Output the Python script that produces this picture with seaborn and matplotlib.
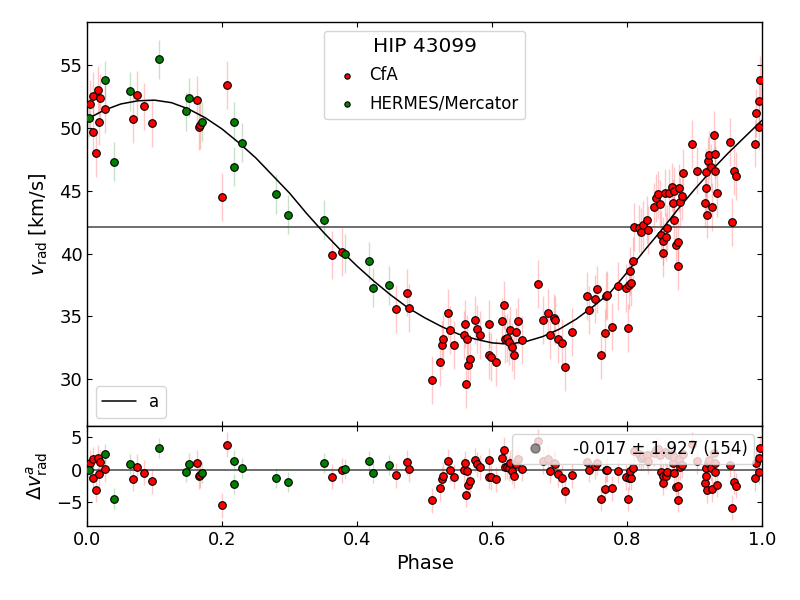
"""Phase-folded radial velocities of HIP 43099 with orbit model and residuals."""
import matplotlib
matplotlib.use("Agg")
import matplotlib.pyplot as plt
from matplotlib.lines import Line2D
import numpy as np
import seaborn as sns

# --- data ------------------------------------------------------------------
cfa_phase = [
    0.004, 0.008, 0.008, 0.013, 0.016, 0.017, 0.019, 0.027, 0.068, 0.074,
    0.084, 0.096, 0.163, 0.165, 0.167, 0.200, 0.207,
    0.363, 0.377, 0.457, 0.474, 0.477, 0.511, 0.523, 0.526, 0.528, 0.535,
    0.537, 0.544, 0.558, 0.560, 0.563, 0.562, 0.564, 0.567, 0.574, 0.577,
    0.582, 0.596, 0.595, 0.598, 0.606, 0.614, 0.617, 0.619, 0.622, 0.625,
    0.627, 0.630, 0.633, 0.635, 0.638, 0.644, 0.668, 0.675, 0.683, 0.686,
    0.692, 0.693, 0.697,
    0.703, 0.708, 0.719, 0.740, 0.743, 0.752, 0.756, 0.762, 0.768, 0.769,
    0.770, 0.777, 0.786, 0.798, 0.801, 0.803, 0.806, 0.804, 0.809, 0.811,
    0.817, 0.821, 0.824, 0.830, 0.831, 0.840, 0.843, 0.846, 0.849, 0.851,
    0.853, 0.854, 0.856, 0.857, 0.859, 0.862, 0.866, 0.868, 0.869, 0.870,
    0.873, 0.875, 0.876, 0.877, 0.879, 0.882, 0.883, 0.896, 0.903, 0.915,
    0.917, 0.917, 0.919, 0.920, 0.921, 0.925, 0.926, 0.929, 0.930, 0.931,
    0.934, 0.953, 0.956, 0.958, 0.962, 0.990, 0.991, 0.995, 0.997, 0.996,
]
cfa_rv = [
    51.9, 49.7, 52.5, 48.0, 53.0, 50.5, 52.4, 51.5, 50.7, 52.6,
    51.7, 50.4, 52.2, 50.1, 50.2, 44.5, 53.4,
    39.9, 40.1, 35.6, 36.9, 35.7, 29.95, 31.4, 32.7, 33.2, 35.3,
    33.9, 32.7, 33.5, 34.4, 33.2, 29.6, 31.1, 31.65, 34.7, 34.0,
    33.5, 34.4, 31.9, 31.8, 31.4, 34.6, 35.9, 33.2, 33.3, 33.0,
    33.9, 32.6, 31.9, 33.8, 34.6, 33.1, 37.6, 34.7, 35.3, 33.5,
    34.9, 34.7, 33.2,
    32.9, 31.0, 33.75, 36.6, 35.5, 36.4, 37.15, 31.9, 33.7, 36.6,
    36.7, 34.2, 37.4, 37.25, 34.1, 37.5, 37.7, 38.6, 39.4, 42.1,
    42.0, 41.75, 42.25, 42.7, 41.85, 43.7, 44.4, 44.7, 43.95, 41.5,
    41.0, 40.05, 44.85, 41.3, 42.0, 44.8, 45.3, 44.0, 45.0, 42.65,
    40.7, 40.95, 39.0, 45.2, 44.1, 44.6, 46.4, 48.7, 46.6, 44.0,
    45.2, 46.45, 43.1, 47.4, 47.85, 46.85, 43.7, 49.4, 46.55, 47.9,
    44.8, 48.9, 42.5, 46.55, 46.2, 48.75, 51.2, 52.1, 53.8, 50.1,
]
cfa_err = [1.9] * len(cfa_phase)

herm_phase = [
    0.0025, 0.026, 0.040, 0.063, 0.107, 0.146, 0.151, 0.170, 0.218,
    0.218, 0.230, 0.280, 0.297, 0.351, 0.382, 0.418, 0.424, 0.447,
]
herm_rv = [
    50.8, 53.8, 47.3, 52.9, 55.45, 51.3, 52.4, 50.5, 50.5,
    46.9, 48.8, 44.7, 43.1, 42.7, 40.0, 39.4, 37.3, 37.5,
]
herm_err = [1.55] * len(herm_phase)

# orbit model "a", sampled along the drawn curve
model_phase = [
    0.000, 0.025, 0.050, 0.075, 0.100, 0.125, 0.150, 0.175, 0.200, 0.225,
    0.250, 0.275, 0.300, 0.325, 0.350, 0.375, 0.400, 0.425, 0.450, 0.475,
    0.500, 0.525, 0.550, 0.575, 0.600, 0.625, 0.650, 0.675, 0.700, 0.725,
    0.750, 0.775, 0.800, 0.825, 0.850, 0.875, 0.900, 0.925, 0.950, 0.975,
    1.000,
]
model_rv = [
    50.7, 51.4, 51.9, 52.15, 52.2, 52.0, 51.5, 50.8, 49.9, 48.8,
    47.6, 46.2, 44.8, 43.2, 41.7, 40.3, 39.0, 37.8, 36.7, 35.7,
    34.9, 34.2, 33.6, 33.2, 32.9, 32.8, 33.0, 33.4, 34.0, 34.8,
    35.8, 36.9, 38.5, 40.2, 41.8, 43.5, 45.1, 46.6, 48.0, 49.3,
    50.6,
]
gamma = 42.1
resid_label = "-0.017 ± 1.927 (154)"
star = "HIP 43099"

# O - C against the model curve
cfa_res = np.array(cfa_rv) - np.interp(cfa_phase, model_phase, model_rv)
herm_res = np.array(herm_rv) - np.interp(herm_phase, model_phase, model_rv)

# --- style -------------------------------------------------------------------
sns.set_style("ticks")
plt.rcParams.update({
    "font.family": ["DejaVu Sans"],
    "xtick.direction": "in", "ytick.direction": "in",
    "xtick.top": True, "ytick.right": True,
    "xtick.labelsize": 13, "ytick.labelsize": 13,
    "axes.labelsize": 14,
    "axes.linewidth": 1.0,
    "axes.edgecolor": "black",
    "text.color": "black", "axes.labelcolor": "black",
    "xtick.color": "black", "ytick.color": "black",
})

CFA_C, HERM_C = "red", "green"
MK = dict(s=30, edgecolor="black", linewidth=0.8, zorder=3)

fig = plt.figure(figsize=(8, 6), dpi=100)
gs = fig.add_gridspec(2, 1, height_ratios=[4.03, 1], hspace=0,
                      left=0.109, right=0.9525, top=0.963, bottom=0.1233)
ax = fig.add_subplot(gs[0])
ax2 = fig.add_subplot(gs[1], sharex=ax)

# top: RVs
ax.errorbar(cfa_phase, cfa_rv, yerr=cfa_err, fmt="none",
            ecolor=(1, 0, 0, 0.22), elinewidth=1, zorder=1)
ax.errorbar(herm_phase, herm_rv, yerr=herm_err, fmt="none",
            ecolor=(0, 0.5, 0, 0.22), elinewidth=1, zorder=1)
sns.scatterplot(x=cfa_phase, y=cfa_rv, color=CFA_C, ax=ax, label="CfA", **MK)
sns.scatterplot(x=herm_phase, y=herm_rv, color=HERM_C, ax=ax,
                label="HERMES/Mercator", **MK)
line, = ax.plot(model_phase, model_rv, color="black", lw=1.1, zorder=2, label="a")
ax.axhline(gamma, color="#555555", lw=1.2, zorder=0)

h, l = ax.get_legend_handles_labels()
leg1 = ax.legend([h[l.index("CfA")], h[l.index("HERMES/Mercator")]],
                 ["CfA", "HERMES/Mercator"], loc="upper center",
                 title=star, title_fontsize=14.5, fontsize=12,
                 markerscale=0.7, handletextpad=0.3, labelspacing=0.6)
ax.add_artist(leg1)
ax.legend([line], ["a"], loc="lower left", fontsize=12)

ax.set_xlim(0, 1)
ax.set_ylim(26.3, 58.4)
ax.set_yticks([30, 35, 40, 45, 50, 55])
ax.set_ylabel(r"$v_{\rm rad}$ [km/s]")
ax.tick_params(labelbottom=False)

# bottom: residuals
ax2.errorbar(cfa_phase, cfa_res, yerr=cfa_err, fmt="none",
             ecolor=(1, 0, 0, 0.22), elinewidth=1, zorder=1)
ax2.errorbar(herm_phase, herm_res, yerr=herm_err, fmt="none",
             ecolor=(0, 0.5, 0, 0.22), elinewidth=1, zorder=1)
sns.scatterplot(x=cfa_phase, y=cfa_res, color=CFA_C, ax=ax2, legend=False, **MK)
sns.scatterplot(x=herm_phase, y=herm_res, color=HERM_C, ax=ax2, legend=False, **MK)
ax2.axhline(0, color="#555555", lw=1.2, zorder=0)
stat = Line2D([], [], marker="o", ls="", color="#444444", alpha=0.6,
              markersize=6.5)
ax2.legend([stat], [resid_label], loc="upper right", fontsize=12,
           handletextpad=1.3, borderpad=0.35)
ax2.set_ylim(-8.6, 6.7)
ax2.set_yticks([-5, 0, 5])
ax2.set_xticks([0, 0.2, 0.4, 0.6, 0.8, 1.0])
ax2.set_xlabel("Phase")
ax2.set_ylabel(r"$\Delta v^{a}_{\rm rad}$")

fig.align_ylabels([ax, ax2])
fig.savefig("out.png", dpi=100)
